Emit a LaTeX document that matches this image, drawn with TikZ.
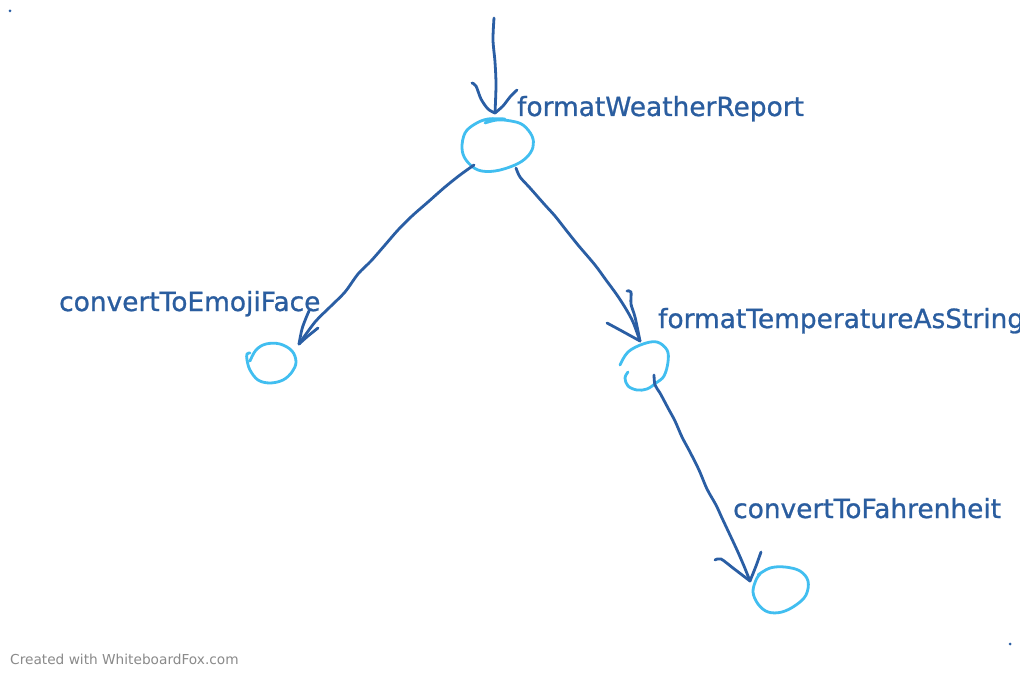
\documentclass[tikz,border=0pt]{standalone}
\usepackage{fontspec}
\setmainfont{DejaVu Sans}
\newfontfamily\labelfont[FakeBold=0.9]{DejaVu Sans}
\definecolor{ink}{HTML}{2A5EA4}
\definecolor{txt}{HTML}{2A5D9F}
\definecolor{ring}{HTML}{41BEF0}
\definecolor{foot}{HTML}{8A8A8A}
\tikzset{
  stroke/.style={draw=ink, line width=2.8pt, line cap=round, line join=round},
  circ/.style={draw=ring, line width=2.8pt, line cap=round, line join=round},
  lbl/.style={text=txt, anchor=base west, inner sep=0pt, font=\labelfont\fontsize{26.4}{30}\selectfont},
}
\begin{document}
\begin{tikzpicture}[x=1pt,y=-1pt]
\useasboundingbox (0,0) rectangle (1020,674);
\fill[white] (0,0) rectangle (1020,674);
\clip (0,0) rectangle (1020,674);

% node centres
\coordinate (wr) at (497,145);
\coordinate (ef) at (272,363);
\coordinate (ts) at (645,366);
\coordinate (cf) at (780,590);

% labels
\node[lbl] (lwr) at (517,116) {formatWeatherReport};
\node[lbl] (lef) at (59,311) {convertToEmojiFace};
\node[lbl] (lts) at (658,328) {formatTemperatureAsString};
\node[lbl] (lcf) at (733,518) {convertToFahrenheit};
\node[text=foot, anchor=base west, inner sep=0pt, font=\fontsize{13.7}{16}\selectfont] (foot) at (10,664) {Created with WhiteboardFox.com};

% hand-drawn circles
\draw[circ] plot[smooth, tension=0.6] coordinates {(485,123) (497,120) (511,121) (523,125) (532,136) (533,147) (527,157) (515,165) (495,171) (478,170) (466,160) (462,148) (465,133) (475,124) (488,119) (505,119)};
\draw[circ] plot[smooth, tension=0.6] coordinates {(250,361) (256,350) (266,344) (280,344) (292,351) (296,362) (292,372) (283,380) (270,383) (258,380) (250,370) (247,360) (247,354) (250,353)};
\draw[circ] plot[smooth, tension=0.6] coordinates {(620,365) (628,352) (643,344) (657,342) (667,350) (668,362) (664,376) (656,383) (647,389) (637,390) (628,386) (625,378) (628,372)};
\draw[circ] plot[smooth, tension=0.6] coordinates {(758,575) (770,568) (785,567) (800,571) (808,581) (806,595) (796,605) (782,612) (768,612) (758,604) (753,592) (756,580) (760,574)};

% incoming arrow to formatWeatherReport
\coordinate (in0) at (494,18);
\coordinate (t0) at (495,113);
\draw[stroke] plot[smooth, tension=0.5] coordinates {(in0) (493,40) (495,62) (496,85) (t0)};
\draw[stroke] plot[smooth, tension=0.5] coordinates {(472,83) (476,86) (481,99) (488,109) (t0)};
\draw[stroke] plot[smooth, tension=0.5] coordinates {(517,90) (510,97) (503,106) (t0)};

% formatWeatherReport -> convertToEmojiFace
\coordinate (s1) at (474,165);
\coordinate (t1) at (299,344);
\draw[stroke] plot[smooth, tension=0.5] coordinates {(s1) (460,175) (445,187) (428,202) (412,216) (398,230) (385,245) (371,261) (358,274) (345,292) (330,307) (315,322) (t1)};
\draw[stroke] plot[smooth, tension=0.5] coordinates {(309,311) (306,318) (302,329) (t1)};
\draw[stroke] plot[smooth, tension=0.5] coordinates {(318,328) (308,336) (t1)};

% formatWeatherReport -> formatTemperatureAsString
\coordinate (s2) at (516,168);
\coordinate (t2) at (640,341);
\draw[stroke] plot[smooth, tension=0.5] coordinates {(s2) (520,177) (530,188) (545,205) (555,216) (566,230) (578,245) (595,265) (606,280) (617,295) (626,309) (633,322) (t2)};
\draw[stroke] plot[smooth, tension=0.5] coordinates {(627,291) (631,292) (631,304) (635,317) (t2)};
\draw[stroke] plot[smooth, tension=0.5] coordinates {(607,323) (620,330) (t2)};

% formatTemperatureAsString -> convertToFahrenheit
\coordinate (s3) at (654,375);
\coordinate (t3) at (750,581);
\draw[stroke] plot[smooth, tension=0.5] coordinates {(s3) (655,385) (660,393) (668,408) (675,421) (682,437) (690,452) (699,470) (707,489) (716,505) (722,518) (730,535) (737,550) (744,566) (t3)};
\draw[stroke] plot[smooth, tension=0.5] coordinates {(715,560) (721,559) (733,568) (t3)};
\draw[stroke] plot[smooth, tension=0.5] coordinates {(761,552) (756,566) (t3)};

% stray dots
\fill[ink] (10,11) circle (1.5);
\fill[ink] (1010,644) circle (1.5);
\end{tikzpicture}
\end{document}
